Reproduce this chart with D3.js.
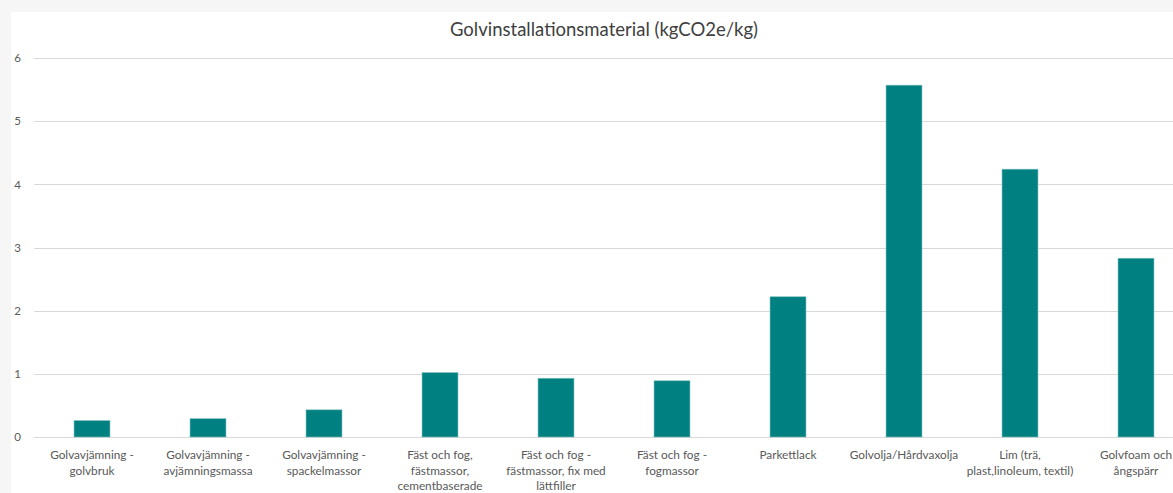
<!DOCTYPE html>
<html>
<head>
<meta charset="utf-8">
<script src="https://cdn.jsdelivr.net/npm/d3@7"></script>
<style>
  html, body { margin: 0; padding: 0; background: #ffffff; }
  svg { display: block; }
  text { font-family: Lato, "Open Sans", sans-serif; }
</style>
</head>
<body>
<svg id="chart" width="1173" height="493"></svg>
<script>
// Emission factors for floor installation materials (kgCO2e per kg)
const categories = [
  ["Golvavjämning -", "golvbruk"],
  ["Golvavjämning -", "avjämningsmassa"],
  ["Golvavjämning -", "spackelmassor"],
  ["Fäst och fog,", "fästmassor,", "cementbaserade"],
  ["Fäst och fog -", "fästmassor, fix med", "lättfiller"],
  ["Fäst och fog -", "fogmassor"],
  ["Parkettlack"],
  ["Golvolja/Hårdvaxolja"],
  ["Lim (trä,", "plast,linoleum, textil)"],
  ["Golvfoam och", "ångspärr"]
];
const values = [0.26, 0.29, 0.43, 1.02, 0.93, 0.89, 2.22, 5.57, 4.24, 2.83];
const yTicks = [0, 1, 2, 3, 4, 5, 6];
const title = "Golvinstallationsmaterial (kgCO2e/kg)";

const svg = d3.select("#chart");
const W = 1173, H = 493;

// faint decorative border strips along the top and left edges
svg.append("rect").attr("x", 0).attr("y", 0).attr("width", W).attr("height", 12).attr("fill", "#f6f6f6");
svg.append("rect").attr("x", 0).attr("y", 0).attr("width", 11).attr("height", H).attr("fill", "#f6f6f6");

const plot = { left: 34, right: 1194, top: 58, bottom: 437 };

const x = d3.scaleBand()
  .domain(d3.range(categories.length))
  .range([plot.left, plot.right])
  .paddingInner(0.69)
  .paddingOuter(0.345);

const y = d3.scaleLinear().domain([0, 6]).range([plot.bottom, plot.top]);

// horizontal gridlines
svg.append("g")
  .selectAll("line")
  .data(yTicks)
  .join("line")
  .attr("x1", plot.left)
  .attr("x2", W)
  .attr("y1", d => Math.round(y(d)) + 0.5)
  .attr("y2", d => Math.round(y(d)) + 0.5)
  .attr("stroke", "#d9d9d9")
  .attr("stroke-width", 1.2);

// y-axis labels
const yAxis = d3.axisLeft(y).tickValues(yTicks).tickFormat(d3.format("d")).tickSize(0).tickPadding(0);
const gy = svg.append("g").attr("transform", "translate(21,0)").call(yAxis);
gy.select(".domain").remove();
gy.selectAll("text")
  .attr("fill", "#595959")
  .style("font-size", "11.5px")
  .style("font-family", "Lato, 'Open Sans', sans-serif");

// bars
svg.append("g")
  .selectAll("rect")
  .data(values)
  .join("rect")
  .attr("x", (d, i) => x(i))
  .attr("y", d => y(d))
  .attr("width", x.bandwidth())
  .attr("height", d => y(0) - y(d))
  .attr("fill", "#008080")
  .attr("stroke", "#7fbfbf")
  .attr("stroke-width", 0.6);

// category labels (wrapped on multiple lines)
const lab = svg.append("g")
  .selectAll("text")
  .data(categories)
  .join("text")
  .attr("x", (d, i) => x(i) + x.bandwidth() / 2)
  .attr("y", 459)
  .attr("text-anchor", "middle")
  .attr("fill", "#595959")
  .style("font-size", "11.8px");
lab.selectAll("tspan")
  .data(d => d)
  .join("tspan")
  .attr("x", function () { return d3.select(this.parentNode).attr("x"); })
  .attr("dy", (d, i) => i === 0 ? 0 : 15.5)
  .text(d => d);

// title
svg.append("text")
  .attr("x", 604)
  .attr("y", 36)
  .attr("text-anchor", "middle")
  .attr("fill", "#404040")
  .style("font-size", "18.5px")
  .text(title);
</script>
</body>
</html>
